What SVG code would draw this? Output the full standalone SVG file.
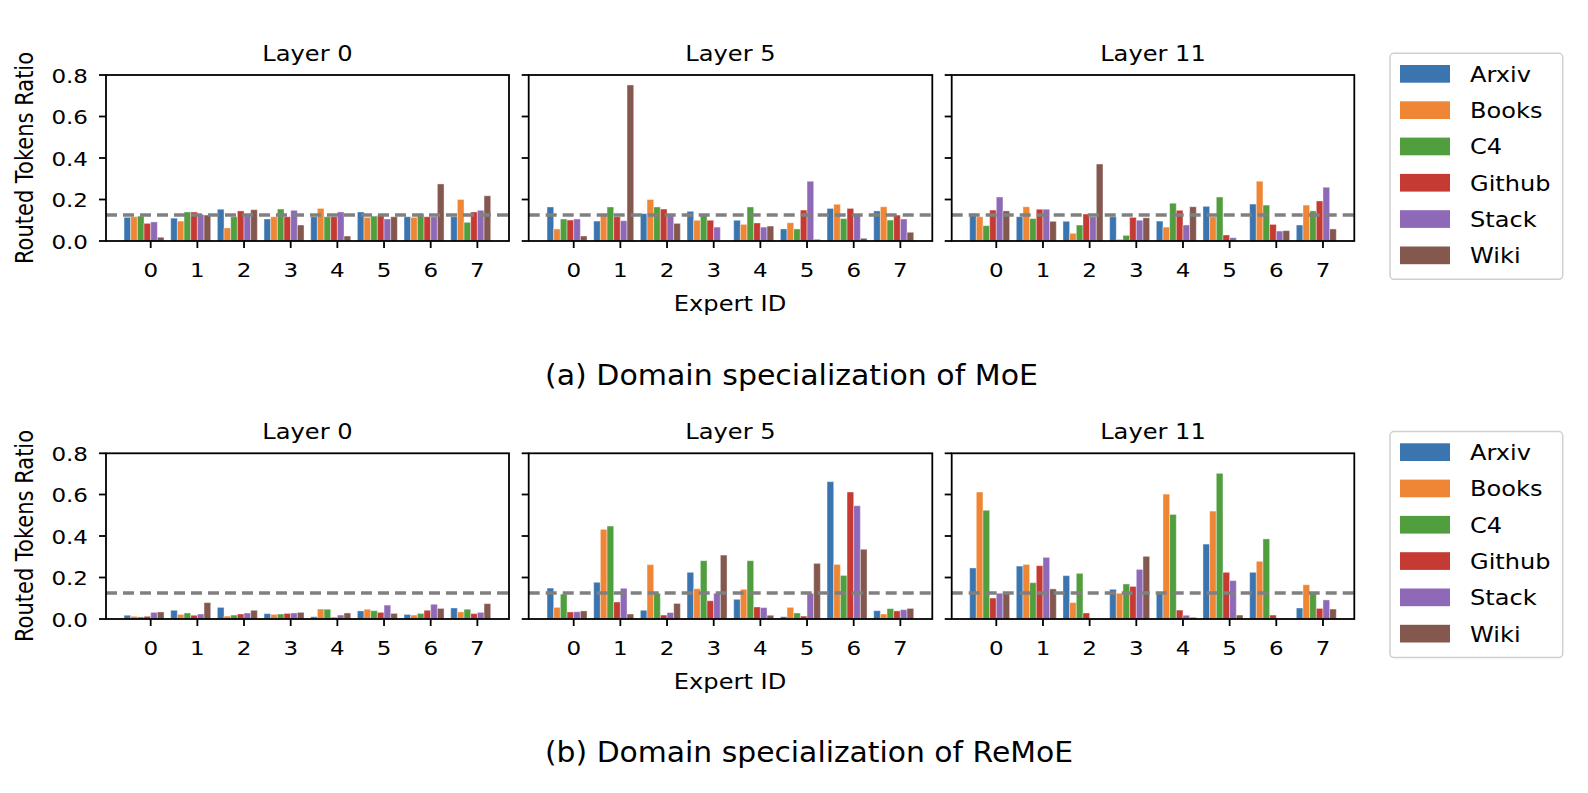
<svg xmlns="http://www.w3.org/2000/svg" width="1588" height="793" viewBox="0 0 1588 793">
<style>
text{font-family:"DejaVu Sans",sans-serif;fill:#000}
.tk{font-size:20px}
.tl{font-size:21px}
.lg{font-size:21.5px}
.cap{font-family:"Liberation Serif",serif;font-size:28px}
.frame{fill:none;stroke:#000;stroke-width:1.8}
.tick{stroke:#000;stroke-width:1.8}
.dash{stroke:#808080;stroke-width:3.5;stroke-dasharray:11 6}
rect.b{stroke:#fff;stroke-opacity:.5;stroke-width:.8;vector-effect:non-scaling-stroke}
.c0{fill:#3a75af}.c1{fill:#ef8636}.c2{fill:#519e3e}.c3{fill:#c53a32}.c4{fill:#8d69b8}.c5{fill:#84584e}
</style>
<defs>
<g id="xt">
<line class="tick" x1="0" y1="0" x2="0" y2="7"/>
</g>
<g id="yt">
<line class="tick" x1="0" y1="0" x2="-7" y2="0"/>
</g>
</defs>
<rect width="1588" height="793" fill="#fff"/>

<!-- helper: tick marks and frames -->
<g id="axes-top">
<g id="panel-a0">
<g transform="translate(150.7,241) scale(46.667,-207.5)">
<g><rect class="b c0" x="-.5714" width=".1429" height=".114"/><rect class="b c1" x="-.4286" width=".1429" height=".117"/><rect class="b c2" x="-.2857" width=".1429" height=".12"/><rect class="b c3" x="-.1429" width=".1429" height=".085"/><rect class="b c4" x="0" width=".1429" height=".092"/><rect class="b c5" x=".1429" width=".1429" height=".018"/></g>
<g transform="translate(1,0)"><rect class="b c0" x="-.5714" width=".1429" height=".11"/><rect class="b c1" x="-.4286" width=".1429" height=".096"/><rect class="b c2" x="-.2857" width=".1429" height=".14"/><rect class="b c3" x="-.1429" width=".1429" height=".14"/><rect class="b c4" x="0" width=".1429" height=".128"/><rect class="b c5" x=".1429" width=".1429" height=".125"/></g>
<g transform="translate(2,0)"><rect class="b c0" x="-.5714" width=".1429" height=".153"/><rect class="b c1" x="-.4286" width=".1429" height=".063"/><rect class="b c2" x="-.2857" width=".1429" height=".117"/><rect class="b c3" x="-.1429" width=".1429" height=".145"/><rect class="b c4" x="0" width=".1429" height=".13"/><rect class="b c5" x=".1429" width=".1429" height=".151"/></g>
<g transform="translate(3,0)"><rect class="b c0" x="-.5714" width=".1429" height=".106"/><rect class="b c1" x="-.4286" width=".1429" height=".117"/><rect class="b c2" x="-.2857" width=".1429" height=".154"/><rect class="b c3" x="-.1429" width=".1429" height=".117"/><rect class="b c4" x="0" width=".1429" height=".148"/><rect class="b c5" x=".1429" width=".1429" height=".077"/></g>
<g transform="translate(4,0)"><rect class="b c0" x="-.5714" width=".1429" height=".117"/><rect class="b c1" x="-.4286" width=".1429" height=".157"/><rect class="b c2" x="-.2857" width=".1429" height=".117"/><rect class="b c3" x="-.1429" width=".1429" height=".117"/><rect class="b c4" x="0" width=".1429" height=".14"/><rect class="b c5" x=".1429" width=".1429" height=".024"/></g>
<g transform="translate(5,0)"><rect class="b c0" x="-.5714" width=".1429" height=".14"/><rect class="b c1" x="-.4286" width=".1429" height=".114"/><rect class="b c2" x="-.2857" width=".1429" height=".12"/><rect class="b c3" x="-.1429" width=".1429" height=".125"/><rect class="b c4" x="0" width=".1429" height=".106"/><rect class="b c5" x=".1429" width=".1429" height=".117"/></g>
<g transform="translate(6,0)"><rect class="b c0" x="-.5714" width=".1429" height=".117"/><rect class="b c1" x="-.4286" width=".1429" height=".114"/><rect class="b c2" x="-.2857" width=".1429" height=".132"/><rect class="b c3" x="-.1429" width=".1429" height=".117"/><rect class="b c4" x="0" width=".1429" height=".117"/><rect class="b c5" x=".1429" width=".1429" height=".275"/></g>
<g transform="translate(7,0)"><rect class="b c0" x="-.5714" width=".1429" height=".117"/><rect class="b c1" x="-.4286" width=".1429" height=".2"/><rect class="b c2" x="-.2857" width=".1429" height=".09"/><rect class="b c3" x="-.1429" width=".1429" height=".14"/><rect class="b c4" x="0" width=".1429" height=".148"/><rect class="b c5" x=".1429" width=".1429" height=".218"/></g>
</g>
<line class="dash" x1="106" y1="215" x2="509" y2="215"/>
<rect class="frame" x="106" y="75" width="403" height="166"/>
</g>

<g id="panel-a5">
<g transform="translate(573.7,241) scale(46.667,-207.5)">
<g><rect class="b c0" x="-.5714" width=".1429" height=".164"/><rect class="b c1" x="-.4286" width=".1429" height=".058"/><rect class="b c2" x="-.2857" width=".1429" height=".106"/><rect class="b c3" x="-.1429" width=".1429" height=".101"/><rect class="b c4" x="0" width=".1429" height=".106"/><rect class="b c5" x=".1429" width=".1429" height=".024"/></g>
<g transform="translate(1,0)"><rect class="b c0" x="-.5714" width=".1429" height=".096"/><rect class="b c1" x="-.4286" width=".1429" height=".128"/><rect class="b c2" x="-.2857" width=".1429" height=".164"/><rect class="b c3" x="-.1429" width=".1429" height=".117"/><rect class="b c4" x="0" width=".1429" height=".098"/><rect class="b c5" x=".1429" width=".1429" height=".752"/></g>
<g transform="translate(2,0)"><rect class="b c0" x="-.5714" width=".1429" height=".132"/><rect class="b c1" x="-.4286" width=".1429" height=".2"/><rect class="b c2" x="-.2857" width=".1429" height=".164"/><rect class="b c3" x="-.1429" width=".1429" height=".154"/><rect class="b c4" x="0" width=".1429" height=".13"/><rect class="b c5" x=".1429" width=".1429" height=".085"/></g>
<g transform="translate(3,0)"><rect class="b c0" x="-.5714" width=".1429" height=".143"/><rect class="b c1" x="-.4286" width=".1429" height=".1"/><rect class="b c2" x="-.2857" width=".1429" height=".128"/><rect class="b c3" x="-.1429" width=".1429" height=".1"/><rect class="b c4" x="0" width=".1429" height=".067"/></g>
<g transform="translate(4,0)"><rect class="b c0" x="-.5714" width=".1429" height=".1"/><rect class="b c1" x="-.4286" width=".1429" height=".08"/><rect class="b c2" x="-.2857" width=".1429" height=".164"/><rect class="b c3" x="-.1429" width=".1429" height=".087"/><rect class="b c4" x="0" width=".1429" height=".067"/><rect class="b c5" x=".1429" width=".1429" height=".072"/></g>
<g transform="translate(5,0)"><rect class="b c0" x="-.5714" width=".1429" height=".058"/><rect class="b c1" x="-.4286" width=".1429" height=".088"/><rect class="b c2" x="-.2857" width=".1429" height=".058"/><rect class="b c3" x="-.1429" width=".1429" height=".149"/><rect class="b c4" x="0" width=".1429" height=".288"/><rect class="b c5" x=".1429" width=".1429" height=".008"/></g>
<g transform="translate(6,0)"><rect class="b c0" x="-.5714" width=".1429" height=".157"/><rect class="b c1" x="-.4286" width=".1429" height=".177"/><rect class="b c2" x="-.2857" width=".1429" height=".108"/><rect class="b c3" x="-.1429" width=".1429" height=".157"/><rect class="b c4" x="0" width=".1429" height=".125"/><rect class="b c5" x=".1429" width=".1429" height=".013"/></g>
<g transform="translate(7,0)"><rect class="b c0" x="-.5714" width=".1429" height=".145"/><rect class="b c1" x="-.4286" width=".1429" height=".165"/><rect class="b c2" x="-.2857" width=".1429" height=".101"/><rect class="b c3" x="-.1429" width=".1429" height=".125"/><rect class="b c4" x="0" width=".1429" height=".106"/><rect class="b c5" x=".1429" width=".1429" height=".042"/></g>
</g>
<line class="dash" x1="528.7" y1="215" x2="932.3" y2="215"/>
<rect class="frame" x="528.7" y="75" width="403.6" height="166"/>
</g>

<g id="panel-a11">
<g transform="translate(996.3,241) scale(46.667,-207.5)">
<g><rect class="b c0" x="-.5714" width=".1429" height=".132"/><rect class="b c1" x="-.4286" width=".1429" height=".117"/><rect class="b c2" x="-.2857" width=".1429" height=".074"/><rect class="b c3" x="-.1429" width=".1429" height=".149"/><rect class="b c4" x="0" width=".1429" height=".212"/><rect class="b c5" x=".1429" width=".1429" height=".145"/></g>
<g transform="translate(1,0)"><rect class="b c0" x="-.5714" width=".1429" height=".117"/><rect class="b c1" x="-.4286" width=".1429" height=".165"/><rect class="b c2" x="-.2857" width=".1429" height=".108"/><rect class="b c3" x="-.1429" width=".1429" height=".153"/><rect class="b c4" x="0" width=".1429" height=".153"/><rect class="b c5" x=".1429" width=".1429" height=".095"/></g>
<g transform="translate(2,0)"><rect class="b c0" x="-.5714" width=".1429" height=".095"/><rect class="b c1" x="-.4286" width=".1429" height=".037"/><rect class="b c2" x="-.2857" width=".1429" height=".077"/><rect class="b c3" x="-.1429" width=".1429" height=".13"/><rect class="b c4" x="0" width=".1429" height=".117"/><rect class="b c5" x=".1429" width=".1429" height=".371"/></g>
<g transform="translate(3,0)"><rect class="b c0" x="-.5714" width=".1429" height=".117"/><rect class="b c1" x="-.4286" width=".1429" height=".008"/><rect class="b c2" x="-.2857" width=".1429" height=".027"/><rect class="b c3" x="-.1429" width=".1429" height=".114"/><rect class="b c4" x="0" width=".1429" height=".1"/><rect class="b c5" x=".1429" width=".1429" height=".112"/></g>
<g transform="translate(4,0)"><rect class="b c0" x="-.5714" width=".1429" height=".096"/><rect class="b c1" x="-.4286" width=".1429" height=".067"/><rect class="b c2" x="-.2857" width=".1429" height=".182"/><rect class="b c3" x="-.1429" width=".1429" height=".148"/><rect class="b c4" x="0" width=".1429" height=".077"/><rect class="b c5" x=".1429" width=".1429" height=".165"/></g>
<g transform="translate(5,0)"><rect class="b c0" x="-.5714" width=".1429" height=".167"/><rect class="b c1" x="-.4286" width=".1429" height=".117"/><rect class="b c2" x="-.2857" width=".1429" height=".212"/><rect class="b c3" x="-.1429" width=".1429" height=".029"/><rect class="b c4" x="0" width=".1429" height=".016"/></g>
<g transform="translate(6,0)"><rect class="b c0" x="-.5714" width=".1429" height=".178"/><rect class="b c1" x="-.4286" width=".1429" height=".288"/><rect class="b c2" x="-.2857" width=".1429" height=".173"/><rect class="b c3" x="-.1429" width=".1429" height=".08"/><rect class="b c4" x="0" width=".1429" height=".048"/><rect class="b c5" x=".1429" width=".1429" height=".05"/></g>
<g transform="translate(7,0)"><rect class="b c0" x="-.5714" width=".1429" height=".077"/><rect class="b c1" x="-.4286" width=".1429" height=".173"/><rect class="b c2" x="-.2857" width=".1429" height=".145"/><rect class="b c3" x="-.1429" width=".1429" height=".193"/><rect class="b c4" x="0" width=".1429" height=".259"/><rect class="b c5" x=".1429" width=".1429" height=".058"/></g>
</g>
<line class="dash" x1="951.7" y1="215" x2="1354.3" y2="215"/>
<rect class="frame" x="951.7" y="75" width="402.6" height="166"/>
</g>
</g>

<g id="axes-bottom">
<g id="panel-b0">
<g transform="translate(150.7,619) scale(46.667,-207.5)">
<g><rect class="b c0" x="-.5714" width=".1429" height=".018"/><rect class="b c1" x="-.4286" width=".1429" height=".013"/><rect class="b c2" x="-.2857" width=".1429" height=".01"/><rect class="b c3" x="-.1429" width=".1429" height=".013"/><rect class="b c4" x="0" width=".1429" height=".032"/><rect class="b c5" x=".1429" width=".1429" height=".034"/></g>
<g transform="translate(1,0)"><rect class="b c0" x="-.5714" width=".1429" height=".042"/><rect class="b c1" x="-.4286" width=".1429" height=".022"/><rect class="b c2" x="-.2857" width=".1429" height=".029"/><rect class="b c3" x="-.1429" width=".1429" height=".018"/><rect class="b c4" x="0" width=".1429" height=".024"/><rect class="b c5" x=".1429" width=".1429" height=".079"/></g>
<g transform="translate(2,0)"><rect class="b c0" x="-.5714" width=".1429" height=".056"/><rect class="b c1" x="-.4286" width=".1429" height=".014"/><rect class="b c2" x="-.2857" width=".1429" height=".019"/><rect class="b c3" x="-.1429" width=".1429" height=".024"/><rect class="b c4" x="0" width=".1429" height=".029"/><rect class="b c5" x=".1429" width=".1429" height=".042"/></g>
<g transform="translate(3,0)"><rect class="b c0" x="-.5714" width=".1429" height=".026"/><rect class="b c1" x="-.4286" width=".1429" height=".022"/><rect class="b c2" x="-.2857" width=".1429" height=".024"/><rect class="b c3" x="-.1429" width=".1429" height=".027"/><rect class="b c4" x="0" width=".1429" height=".029"/><rect class="b c5" x=".1429" width=".1429" height=".032"/></g>
<g transform="translate(4,0)"><rect class="b c0" x="-.5714" width=".1429" height=".011"/><rect class="b c1" x="-.4286" width=".1429" height=".048"/><rect class="b c2" x="-.2857" width=".1429" height=".047"/><rect class="b c3" x="-.1429" width=".1429" height=".008"/><rect class="b c4" x="0" width=".1429" height=".019"/><rect class="b c5" x=".1429" width=".1429" height=".029"/></g>
<g transform="translate(5,0)"><rect class="b c0" x="-.5714" width=".1429" height=".039"/><rect class="b c1" x="-.4286" width=".1429" height=".047"/><rect class="b c2" x="-.2857" width=".1429" height=".04"/><rect class="b c3" x="-.1429" width=".1429" height=".032"/><rect class="b c4" x="0" width=".1429" height=".067"/><rect class="b c5" x=".1429" width=".1429" height=".027"/></g>
<g transform="translate(6,0)"><rect class="b c0" x="-.5714" width=".1429" height=".022"/><rect class="b c1" x="-.4286" width=".1429" height=".019"/><rect class="b c2" x="-.2857" width=".1429" height=".027"/><rect class="b c3" x="-.1429" width=".1429" height=".042"/><rect class="b c4" x="0" width=".1429" height=".071"/><rect class="b c5" x=".1429" width=".1429" height=".051"/></g>
<g transform="translate(7,0)"><rect class="b c0" x="-.5714" width=".1429" height=".053"/><rect class="b c1" x="-.4286" width=".1429" height=".034"/><rect class="b c2" x="-.2857" width=".1429" height=".047"/><rect class="b c3" x="-.1429" width=".1429" height=".026"/><rect class="b c4" x="0" width=".1429" height=".032"/><rect class="b c5" x=".1429" width=".1429" height=".074"/></g>
</g>
<line class="dash" x1="106" y1="593" x2="509" y2="593"/>
<rect class="frame" x="106" y="453.3" width="403" height="165.7"/>
</g>

<g id="panel-b5">
<g transform="translate(573.7,619) scale(46.667,-207.5)">
<g><rect class="b c0" x="-.5714" width=".1429" height=".149"/><rect class="b c1" x="-.4286" width=".1429" height=".056"/><rect class="b c2" x="-.2857" width=".1429" height=".12"/><rect class="b c3" x="-.1429" width=".1429" height=".034"/><rect class="b c4" x="0" width=".1429" height=".035"/><rect class="b c5" x=".1429" width=".1429" height=".039"/></g>
<g transform="translate(1,0)"><rect class="b c0" x="-.5714" width=".1429" height=".177"/><rect class="b c1" x="-.4286" width=".1429" height=".432"/><rect class="b c2" x="-.2857" width=".1429" height=".448"/><rect class="b c3" x="-.1429" width=".1429" height=".082"/><rect class="b c4" x="0" width=".1429" height=".148"/><rect class="b c5" x=".1429" width=".1429" height=".024"/></g>
<g transform="translate(2,0)"><rect class="b c0" x="-.5714" width=".1429" height=".042"/><rect class="b c1" x="-.4286" width=".1429" height=".262"/><rect class="b c2" x="-.2857" width=".1429" height=".124"/><rect class="b c3" x="-.1429" width=".1429" height=".019"/><rect class="b c4" x="0" width=".1429" height=".031"/><rect class="b c5" x=".1429" width=".1429" height=".075"/></g>
<g transform="translate(3,0)"><rect class="b c0" x="-.5714" width=".1429" height=".225"/><rect class="b c1" x="-.4286" width=".1429" height=".146"/><rect class="b c2" x="-.2857" width=".1429" height=".281"/><rect class="b c3" x="-.1429" width=".1429" height=".088"/><rect class="b c4" x="0" width=".1429" height=".124"/><rect class="b c5" x=".1429" width=".1429" height=".308"/></g>
<g transform="translate(4,0)"><rect class="b c0" x="-.5714" width=".1429" height=".095"/><rect class="b c1" x="-.4286" width=".1429" height=".143"/><rect class="b c2" x="-.2857" width=".1429" height=".281"/><rect class="b c3" x="-.1429" width=".1429" height=".058"/><rect class="b c4" x="0" width=".1429" height=".055"/><rect class="b c5" x=".1429" width=".1429" height=".018"/></g>
<g transform="translate(5,0)"><rect class="b c0" x="-.5714" width=".1429" height=".011"/><rect class="b c1" x="-.4286" width=".1429" height=".056"/><rect class="b c2" x="-.2857" width=".1429" height=".029"/><rect class="b c3" x="-.1429" width=".1429" height=".014"/><rect class="b c4" x="0" width=".1429" height=".124"/><rect class="b c5" x=".1429" width=".1429" height=".268"/></g>
<g transform="translate(6,0)"><rect class="b c0" x="-.5714" width=".1429" height=".662"/><rect class="b c1" x="-.4286" width=".1429" height=".263"/><rect class="b c2" x="-.2857" width=".1429" height=".21"/><rect class="b c3" x="-.1429" width=".1429" height=".612"/><rect class="b c4" x="0" width=".1429" height=".546"/><rect class="b c5" x=".1429" width=".1429" height=".336"/></g>
<g transform="translate(7,0)"><rect class="b c0" x="-.5714" width=".1429" height=".04"/><rect class="b c1" x="-.4286" width=".1429" height=".024"/><rect class="b c2" x="-.2857" width=".1429" height=".05"/><rect class="b c3" x="-.1429" width=".1429" height=".039"/><rect class="b c4" x="0" width=".1429" height=".045"/><rect class="b c5" x=".1429" width=".1429" height=".051"/></g>
</g>
<line class="dash" x1="528.7" y1="593" x2="932.3" y2="593"/>
<rect class="frame" x="528.7" y="453.3" width="403.6" height="165.7"/>
</g>

<g id="panel-b11">
<g transform="translate(996.3,619) scale(46.667,-207.5)">
<g><rect class="b c0" x="-.5714" width=".1429" height=".246"/><rect class="b c1" x="-.4286" width=".1429" height=".612"/><rect class="b c2" x="-.2857" width=".1429" height=".524"/><rect class="b c3" x="-.1429" width=".1429" height=".101"/><rect class="b c4" x="0" width=".1429" height=".124"/><rect class="b c5" x=".1429" width=".1429" height=".128"/></g>
<g transform="translate(1,0)"><rect class="b c0" x="-.5714" width=".1429" height=".255"/><rect class="b c1" x="-.4286" width=".1429" height=".263"/><rect class="b c2" x="-.2857" width=".1429" height=".175"/><rect class="b c3" x="-.1429" width=".1429" height=".257"/><rect class="b c4" x="0" width=".1429" height=".297"/><rect class="b c5" x=".1429" width=".1429" height=".145"/></g>
<g transform="translate(2,0)"><rect class="b c0" x="-.5714" width=".1429" height=".209"/><rect class="b c1" x="-.4286" width=".1429" height=".079"/><rect class="b c2" x="-.2857" width=".1429" height=".22"/><rect class="b c3" x="-.1429" width=".1429" height=".029"/><rect class="b c4" x="0" width=".1429" height=".002"/></g>
<g transform="translate(3,0)"><rect class="b c0" x="-.5714" width=".1429" height=".143"/><rect class="b c1" x="-.4286" width=".1429" height=".124"/><rect class="b c2" x="-.2857" width=".1429" height=".169"/><rect class="b c3" x="-.1429" width=".1429" height=".157"/><rect class="b c4" x="0" width=".1429" height=".239"/><rect class="b c5" x=".1429" width=".1429" height=".302"/></g>
<g transform="translate(4,0)"><rect class="b c0" x="-.5714" width=".1429" height=".124"/><rect class="b c1" x="-.4286" width=".1429" height=".602"/><rect class="b c2" x="-.2857" width=".1429" height=".504"/><rect class="b c3" x="-.1429" width=".1429" height=".043"/><rect class="b c4" x="0" width=".1429" height=".018"/><rect class="b c5" x=".1429" width=".1429" height=".008"/></g>
<g transform="translate(5,0)"><rect class="b c0" x="-.5714" width=".1429" height=".361"/><rect class="b c1" x="-.4286" width=".1429" height=".52"/><rect class="b c2" x="-.2857" width=".1429" height=".702"/><rect class="b c3" x="-.1429" width=".1429" height=".225"/><rect class="b c4" x="0" width=".1429" height=".185"/><rect class="b c5" x=".1429" width=".1429" height=".019"/></g>
<g transform="translate(6,0)"><rect class="b c0" x="-.5714" width=".1429" height=".225"/><rect class="b c1" x="-.4286" width=".1429" height=".278"/><rect class="b c2" x="-.2857" width=".1429" height=".386"/><rect class="b c3" x="-.1429" width=".1429" height=".019"/><rect class="b c4" x="0" width=".1429" height=".002"/></g>
<g transform="translate(7,0)"><rect class="b c0" x="-.5714" width=".1429" height=".053"/><rect class="b c1" x="-.4286" width=".1429" height=".165"/><rect class="b c2" x="-.2857" width=".1429" height=".124"/><rect class="b c3" x="-.1429" width=".1429" height=".051"/><rect class="b c4" x="0" width=".1429" height=".092"/><rect class="b c5" x=".1429" width=".1429" height=".048"/></g>
</g>
<line class="dash" x1="951.7" y1="593" x2="1354.3" y2="593"/>
<rect class="frame" x="951.7" y="453.3" width="402.6" height="165.7"/>
</g>
</g>

<g id="ticks">
<!-- y ticks top -->
<g transform="translate(106,0)"><use href="#yt" y="241"/><use href="#yt" y="199.5"/><use href="#yt" y="158"/><use href="#yt" y="116.5"/><use href="#yt" y="75"/></g>
<g transform="translate(528.7,0)"><use href="#yt" y="241"/><use href="#yt" y="199.5"/><use href="#yt" y="158"/><use href="#yt" y="116.5"/><use href="#yt" y="75"/></g>
<g transform="translate(951.7,0)"><use href="#yt" y="241"/><use href="#yt" y="199.5"/><use href="#yt" y="158"/><use href="#yt" y="116.5"/><use href="#yt" y="75"/></g>
<g transform="translate(106,0)"><use href="#yt" y="619"/><use href="#yt" y="577.5"/><use href="#yt" y="536"/><use href="#yt" y="494.5"/><use href="#yt" y="453.3"/></g>
<g transform="translate(528.7,0)"><use href="#yt" y="619"/><use href="#yt" y="577.5"/><use href="#yt" y="536"/><use href="#yt" y="494.5"/><use href="#yt" y="453.3"/></g>
<g transform="translate(951.7,0)"><use href="#yt" y="619"/><use href="#yt" y="577.5"/><use href="#yt" y="536"/><use href="#yt" y="494.5"/><use href="#yt" y="453.3"/></g>
<!-- x ticks -->
<g transform="translate(150.7,241)"><use href="#xt"/><use href="#xt" x="46.67"/><use href="#xt" x="93.33"/><use href="#xt" x="140"/><use href="#xt" x="186.67"/><use href="#xt" x="233.33"/><use href="#xt" x="280"/><use href="#xt" x="326.67"/></g>
<g transform="translate(573.7,241)"><use href="#xt"/><use href="#xt" x="46.67"/><use href="#xt" x="93.33"/><use href="#xt" x="140"/><use href="#xt" x="186.67"/><use href="#xt" x="233.33"/><use href="#xt" x="280"/><use href="#xt" x="326.67"/></g>
<g transform="translate(996.3,241)"><use href="#xt"/><use href="#xt" x="46.67"/><use href="#xt" x="93.33"/><use href="#xt" x="140"/><use href="#xt" x="186.67"/><use href="#xt" x="233.33"/><use href="#xt" x="280"/><use href="#xt" x="326.67"/></g>
<g transform="translate(150.7,619)"><use href="#xt"/><use href="#xt" x="46.67"/><use href="#xt" x="93.33"/><use href="#xt" x="140"/><use href="#xt" x="186.67"/><use href="#xt" x="233.33"/><use href="#xt" x="280"/><use href="#xt" x="326.67"/></g>
<g transform="translate(573.7,619)"><use href="#xt"/><use href="#xt" x="46.67"/><use href="#xt" x="93.33"/><use href="#xt" x="140"/><use href="#xt" x="186.67"/><use href="#xt" x="233.33"/><use href="#xt" x="280"/><use href="#xt" x="326.67"/></g>
<g transform="translate(996.3,619)"><use href="#xt"/><use href="#xt" x="46.67"/><use href="#xt" x="93.33"/><use href="#xt" x="140"/><use href="#xt" x="186.67"/><use href="#xt" x="233.33"/><use href="#xt" x="280"/><use href="#xt" x="326.67"/></g>
</g>

<g id="labels-top" class="tk">
<g text-anchor="end">
<text transform="translate(88,248.5) scale(1.15,1)">0.0</text>
<text transform="translate(88,207) scale(1.15,1)">0.2</text>
<text transform="translate(88,165.5) scale(1.15,1)">0.4</text>
<text transform="translate(88,124) scale(1.15,1)">0.6</text>
<text transform="translate(88,82.5) scale(1.15,1)">0.8</text>
<text transform="translate(88,626.5) scale(1.15,1)">0.0</text>
<text transform="translate(88,585) scale(1.15,1)">0.2</text>
<text transform="translate(88,543.5) scale(1.15,1)">0.4</text>
<text transform="translate(88,502) scale(1.15,1)">0.6</text>
<text transform="translate(88,460.8) scale(1.15,1)">0.8</text>
</g>
<g text-anchor="middle">
<g transform="translate(150.7,277)"><text transform="scale(1.15,1)">0</text><text transform="translate(46.67,0) scale(1.15,1)">1</text><text transform="translate(93.33,0) scale(1.15,1)">2</text><text transform="translate(140,0) scale(1.15,1)">3</text><text transform="translate(186.67,0) scale(1.15,1)">4</text><text transform="translate(233.33,0) scale(1.15,1)">5</text><text transform="translate(280,0) scale(1.15,1)">6</text><text transform="translate(326.67,0) scale(1.15,1)">7</text></g>
<g transform="translate(573.7,277)"><text transform="scale(1.15,1)">0</text><text transform="translate(46.67,0) scale(1.15,1)">1</text><text transform="translate(93.33,0) scale(1.15,1)">2</text><text transform="translate(140,0) scale(1.15,1)">3</text><text transform="translate(186.67,0) scale(1.15,1)">4</text><text transform="translate(233.33,0) scale(1.15,1)">5</text><text transform="translate(280,0) scale(1.15,1)">6</text><text transform="translate(326.67,0) scale(1.15,1)">7</text></g>
<g transform="translate(996.3,277)"><text transform="scale(1.15,1)">0</text><text transform="translate(46.67,0) scale(1.15,1)">1</text><text transform="translate(93.33,0) scale(1.15,1)">2</text><text transform="translate(140,0) scale(1.15,1)">3</text><text transform="translate(186.67,0) scale(1.15,1)">4</text><text transform="translate(233.33,0) scale(1.15,1)">5</text><text transform="translate(280,0) scale(1.15,1)">6</text><text transform="translate(326.67,0) scale(1.15,1)">7</text></g>
<g transform="translate(150.7,655)"><text transform="scale(1.15,1)">0</text><text transform="translate(46.67,0) scale(1.15,1)">1</text><text transform="translate(93.33,0) scale(1.15,1)">2</text><text transform="translate(140,0) scale(1.15,1)">3</text><text transform="translate(186.67,0) scale(1.15,1)">4</text><text transform="translate(233.33,0) scale(1.15,1)">5</text><text transform="translate(280,0) scale(1.15,1)">6</text><text transform="translate(326.67,0) scale(1.15,1)">7</text></g>
<g transform="translate(573.7,655)"><text transform="scale(1.15,1)">0</text><text transform="translate(46.67,0) scale(1.15,1)">1</text><text transform="translate(93.33,0) scale(1.15,1)">2</text><text transform="translate(140,0) scale(1.15,1)">3</text><text transform="translate(186.67,0) scale(1.15,1)">4</text><text transform="translate(233.33,0) scale(1.15,1)">5</text><text transform="translate(280,0) scale(1.15,1)">6</text><text transform="translate(326.67,0) scale(1.15,1)">7</text></g>
<g transform="translate(996.3,655)"><text transform="scale(1.15,1)">0</text><text transform="translate(46.67,0) scale(1.15,1)">1</text><text transform="translate(93.33,0) scale(1.15,1)">2</text><text transform="translate(140,0) scale(1.15,1)">3</text><text transform="translate(186.67,0) scale(1.15,1)">4</text><text transform="translate(233.33,0) scale(1.15,1)">5</text><text transform="translate(280,0) scale(1.15,1)">6</text><text transform="translate(326.67,0) scale(1.15,1)">7</text></g>
</g>
</g>

<g id="titles" class="tl" text-anchor="middle">
<text transform="translate(307.5,60.7) scale(1.15,1)">Layer 0</text>
<text transform="translate(730.5,60.7) scale(1.15,1)">Layer 5</text>
<text transform="translate(1153,60.7) scale(1.15,1)">Layer 11</text>
<text transform="translate(307.5,439) scale(1.15,1)">Layer 0</text>
<text transform="translate(730.5,439) scale(1.15,1)">Layer 5</text>
<text transform="translate(1153,439) scale(1.15,1)">Layer 11</text>
<text transform="translate(730,310.7) scale(1.15,1)">Expert ID</text>
<text transform="translate(730,688.5) scale(1.15,1)">Expert ID</text>
<text transform="translate(33.3,158) scale(1.15,1) rotate(-90)">Routed Tokens Ratio</text>
<text transform="translate(33.3,536) scale(1.15,1) rotate(-90)">Routed Tokens Ratio</text>
</g>

<g id="legend-top">
<rect x="1390" y="53.3" width="172.7" height="226" rx="4" fill="#fff" stroke="#d0d0d0" stroke-width="1.5"/>
<rect class="c0" x="1400" y="65" width="50" height="17.7"/>
<rect class="c1" x="1400" y="101.3" width="50" height="17.7"/>
<rect class="c2" x="1400" y="137.6" width="50" height="17.7"/>
<rect class="c3" x="1400" y="173.9" width="50" height="17.7"/>
<rect class="c4" x="1400" y="210.2" width="50" height="17.7"/>
<rect class="c5" x="1400" y="246.5" width="50" height="17.7"/>
<g class="lg">
<text transform="translate(1470,81.7) scale(1.12,1)">Arxiv</text>
<text transform="translate(1470,118) scale(1.12,1)">Books</text>
<text transform="translate(1470,154.3) scale(1.12,1)">C4</text>
<text transform="translate(1470,190.6) scale(1.12,1)">Github</text>
<text transform="translate(1470,226.9) scale(1.12,1)">Stack</text>
<text transform="translate(1470,263.2) scale(1.12,1)">Wiki</text>
</g>
</g>

<g id="legend-bottom">
<rect x="1390" y="431.6" width="172.7" height="226" rx="4" fill="#fff" stroke="#d0d0d0" stroke-width="1.5"/>
<rect class="c0" x="1400" y="443.3" width="50" height="17.7"/>
<rect class="c1" x="1400" y="479.6" width="50" height="17.7"/>
<rect class="c2" x="1400" y="515.9" width="50" height="17.7"/>
<rect class="c3" x="1400" y="552.2" width="50" height="17.7"/>
<rect class="c4" x="1400" y="588.5" width="50" height="17.7"/>
<rect class="c5" x="1400" y="624.8" width="50" height="17.7"/>
<g class="lg">
<text transform="translate(1470,460) scale(1.12,1)">Arxiv</text>
<text transform="translate(1470,496.3) scale(1.12,1)">Books</text>
<text transform="translate(1470,532.6) scale(1.12,1)">C4</text>
<text transform="translate(1470,568.9) scale(1.12,1)">Github</text>
<text transform="translate(1470,605.2) scale(1.12,1)">Stack</text>
<text transform="translate(1470,641.5) scale(1.12,1)">Wiki</text>
</g>
</g>

<g id="captions" class="cap">
<text x="545" y="385" textLength="493" lengthAdjust="spacingAndGlyphs">(a) Domain specialization of MoE</text>
<text x="545" y="762" textLength="528" lengthAdjust="spacingAndGlyphs">(b) Domain specialization of ReMoE</text>
</g>
</svg>
